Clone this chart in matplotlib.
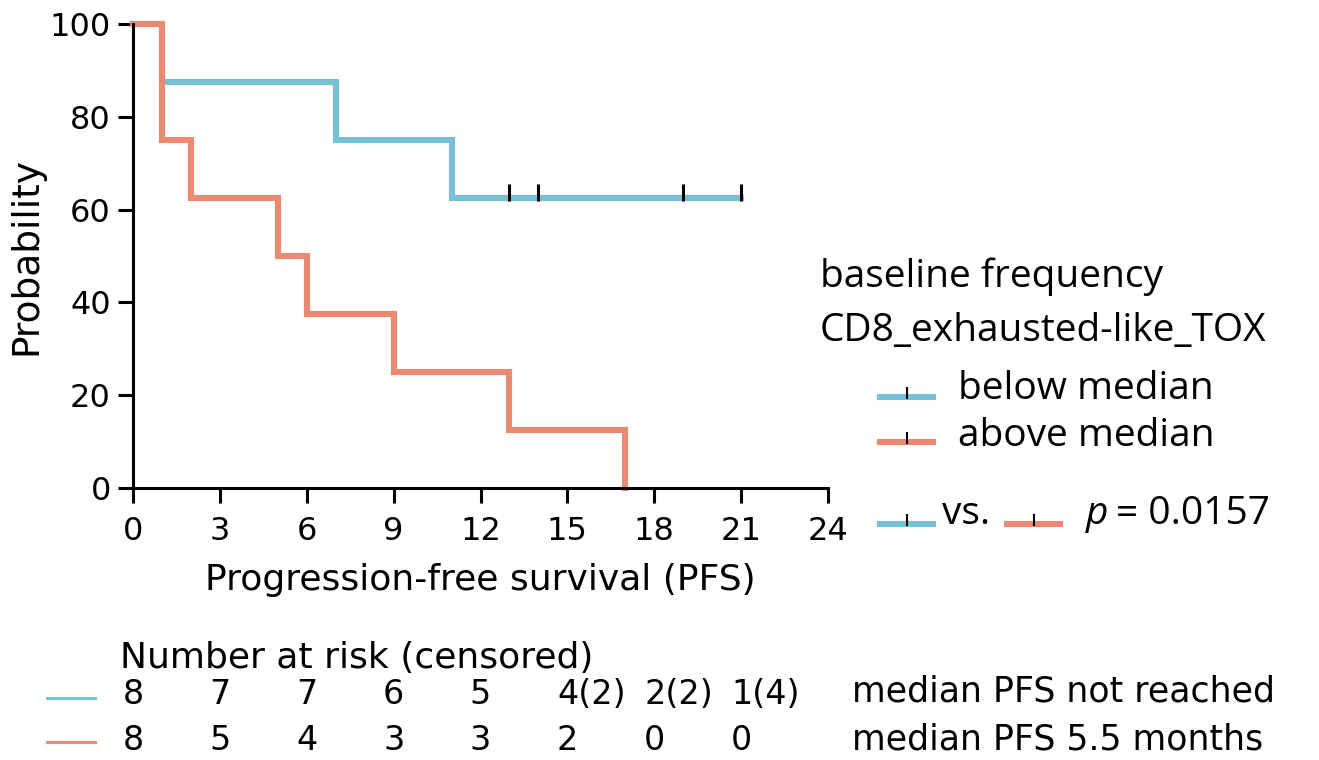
import matplotlib
matplotlib.use("Agg")
import matplotlib.pyplot as plt
from matplotlib.lines import Line2D
from matplotlib.transforms import blended_transform_factory

# survival curves (percent), step after each time
BELOW_T = [0, 1, 7, 11, 21]
BELOW_S = [100, 87.5, 75, 62.5, 62.5]
BELOW_CENSOR_T = [13, 14, 19, 21]
BELOW_CENSOR_S = [62.5, 62.5, 62.5, 62.5]

ABOVE_T = [0, 1, 2, 5, 6, 9, 13, 17]
ABOVE_S = [100, 75, 62.5, 50, 37.5, 25, 12.5, 0]

X_TICKS = [0, 3, 6, 9, 12, 15, 18, 21, 24]
Y_TICKS = [0, 20, 40, 60, 80, 100]

RISK_TIMES = [0, 3, 6, 9, 12, 15, 18, 21]
RISK_BELOW = ["8", "7", "7", "6", "5", "4", "2", "1"]
CENS_BELOW = ["", "", "", "", "", "(2)", "(2)", "(4)"]
RISK_ABOVE = ["8", "5", "4", "3", "3", "2", "0", "0"]

BLUE = "#78c0d6"
ORANGE = "#ea8a72"

W, H = 1319, 760
NARROW = ["DejaVu Sans"]
SANS = ["Open Sans", "DejaVu Sans"]


def fx(x):
    return x / W


def fy(y):
    return 1 - y / H


fig = plt.figure(figsize=(W / 100, H / 100), dpi=100)
ax = fig.add_axes([fx(133), fy(488), fx(828) - fx(133), fy(24) - fy(488)])

ax.step(BELOW_T, BELOW_S, where="post", color=BLUE, lw=4.4, clip_on=False,
        solid_joinstyle="miter")
ax.step(ABOVE_T, ABOVE_S, where="post", color=ORANGE, lw=4.4, clip_on=False,
        solid_joinstyle="miter")
ax.plot(BELOW_CENSOR_T, BELOW_CENSOR_S, ls="none", marker=[(0, -0.25), (0, 1)],
        ms=20, mew=2.2, color="black", clip_on=False)

ax.set_xlim(0, 24)
ax.set_ylim(0, 100)
ax.set_xticks(X_TICKS)
ax.set_yticks(Y_TICKS)
for s in ("top", "right"):
    ax.spines[s].set_visible(False)
for s in ("left", "bottom"):
    ax.spines[s].set_linewidth(2.2)
ax.tick_params(width=2.2, length=11, labelsize=23)
ax.tick_params(axis="x", pad=9)
ax.tick_params(axis="y", pad=5)
for lab in ax.get_xticklabels() + ax.get_yticklabels():
    lab.set_family(NARROW)
ax.set_xlabel("Progression-free survival (PFS)", family=NARROW, fontsize=26,
              labelpad=12)
ax.set_ylabel("Probability", family=NARROW, fontsize=27, labelpad=4)

# legend block on the right
LEG_FS = 28
fig.text(fx(820), fy(277), "baseline frequency", family=SANS, fontsize=LEG_FS,
         va="center", ha="left")
fig.text(fx(820), fy(331), "CD8_exhausted-like_TOX", family=SANS,
         fontsize=LEG_FS, va="center", ha="left")


def legend_key(x0, y, color):
    fig.add_artist(Line2D([fx(x0), fx(x0 + 53)], [fy(y), fy(y)], color=color,
                          lw=4.4, transform=fig.transFigure))
    fig.add_artist(Line2D([fx(x0 + 27)], [fy(y)], ls="none",
                          marker=[(0, -0.25), (0, 1)], ms=14, mew=1.5,
                          color="black", transform=fig.transFigure))


legend_key(880, 397, BLUE)
fig.text(fx(958), fy(389), "below median", family=SANS, fontsize=LEG_FS,
         va="center", ha="left")
legend_key(880, 442, ORANGE)
fig.text(fx(958), fy(436), "above median", family=SANS, fontsize=LEG_FS,
         va="center", ha="left")

legend_key(880, 524, BLUE)
fig.text(fx(942), fy(514), "vs.", family=SANS, fontsize=LEG_FS, va="center",
         ha="left")
legend_key(1007, 524, ORANGE)
fig.text(fx(1086), fy(514), "p", family=SANS, fontsize=LEG_FS, va="center",
         ha="left", style="italic")
fig.text(fx(1116), fy(514), "= 0.0157", family=SANS, fontsize=LEG_FS,
         va="center", ha="left")

# number at risk table
TAB_FS = 24
fig.text(fx(120), fy(658), "Number at risk (censored)", family=NARROW,
         fontsize=TAB_FS + 2, va="center", ha="left")
trans = blended_transform_factory(ax.transData, fig.transFigure)
for t, n, c in zip(RISK_TIMES, RISK_BELOW, CENS_BELOW):
    if c:
        # digit sits on the tick, censored count follows it
        ax.annotate(n + c, xy=(t, fy(694)), xycoords=trans, xytext=(-7, 0),
                    textcoords="offset points", family=NARROW,
                    fontsize=TAB_FS, ha="left", va="center",
                    annotation_clip=False)
    else:
        ax.text(t, fy(694), n, transform=trans, family=NARROW,
                fontsize=TAB_FS, ha="center", va="center", clip_on=False)
for t, n in zip(RISK_TIMES, RISK_ABOVE):
    ax.text(t, fy(741), n, transform=trans, family=NARROW, fontsize=TAB_FS,
            ha="center", va="center", clip_on=False)

fig.add_artist(Line2D([fx(47), fx(95)], [fy(698), fy(698)], color=BLUE,
                      lw=2.2, transform=fig.transFigure))
fig.add_artist(Line2D([fx(47), fx(95)], [fy(742), fy(742)], color=ORANGE,
                      lw=2.2, transform=fig.transFigure))
fig.text(fx(852), fy(692), "median PFS not reached", family=NARROW,
         fontsize=TAB_FS + 1, va="center", ha="left")
fig.text(fx(852), fy(740), "median PFS 5.5 months", family=NARROW,
         fontsize=TAB_FS + 1, va="center", ha="left")

fig.savefig("out.png", dpi=100)
